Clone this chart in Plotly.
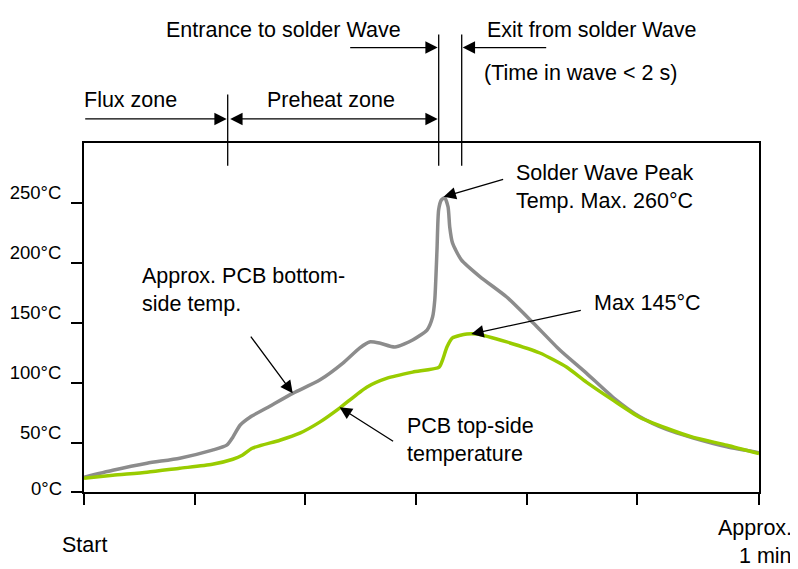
import plotly.graph_objects as go

# ---------------- data ----------------
time_bottom = [0, 2.6, 5.7, 8.65, 11.6, 12.9, 13.45, 14.1, 15.0, 16.5, 18.9, 21.3, 23.4, 24.9, 25.8,
               26.7, 28.1, 29.7, 31.0, 31.5, 31.7, 31.9, 32.05, 32.3, 32.6, 32.9, 33.05, 33.3, 34.1,
               35.8, 38.2, 40.6, 43.0, 45.4, 47.8, 50.2, 52.65, 55.0, 58.1, 61.0]
temp_bottom = [21.5, 27.3, 33.1, 37.3, 44.0, 48.1, 54.8, 64.7, 71.4, 79.0, 91.4, 102.3, 116.4, 128.9, 134.0,
               133.1, 129.7, 135.6, 143.9, 154.7, 169.0, 210.5, 243.9, 252.2, 253.9, 246.4, 229.7, 216.4, 202.3,
               188.2, 171.4, 149.8, 127.3, 108.1, 88.0, 72.0, 61.2, 54.3, 46.8, 41.9]

time_top = [0, 2.6, 5.7, 8.65, 11.6, 13.45, 14.3, 15.2, 17.7, 19.5, 21.3, 23.1, 25.55, 27.4, 29.7,
            32.1, 32.4, 32.8, 33.3, 34.6, 35.5, 38.2, 41.2, 43.6, 45.4, 47.8, 50.2, 52.65, 55.0, 58.1, 61.0]
temp_top = [20.6, 23.1, 25.6, 28.9, 32.2, 36.4, 39.7, 45.6, 52.2, 58.1, 67.3, 79.0, 96.4, 103.9, 108.9,
            113.1, 118.9, 129.7, 137.3, 140.6, 140.6, 134.0, 124.8, 113.1, 100.6, 85.6, 71.4, 62.2, 54.8, 48.1, 41.1]

y_axis_floor = 9.17
y_tick_vals = [y_axis_floor, 50, 100, 150, 200, 250]
y_tick_text = ["", "50°C", "100°C", "150°C", "200°C", "250°C"]
x_tick_vals = [0, 10, 20, 30, 40, 50, 61]

FONT = "Liberation Sans, Arial, sans-serif"
FS = 21.5      # annotation font size
TFS = 18.5     # tick label font size

# page offset of the figure (default body margin)
OFF = 8
W, H = 798 - OFF, 569 - OFF
# plot area in page pixels
L, R, T, B = 84.3, 759.3, 143.3, 491.7


def px(x):
    return (x - L) / (R - L)


def py(y):
    return (B - y) / (B - T)


fig = go.Figure()
fig.add_trace(go.Scatter(x=time_bottom, y=temp_bottom, mode="lines",
                         line=dict(color="#8c8c8c", width=3.5, shape="spline", smoothing=0.6),
                         showlegend=False, hoverinfo="skip"))
fig.add_trace(go.Scatter(x=time_top, y=temp_top, mode="lines",
                         line=dict(color="#99cc00", width=3.5, shape="spline", smoothing=0.6),
                         showlegend=False, hoverinfo="skip"))

ann = []


def text(t, x, y, size=FS, xanchor="left", align="left", xref="paper", yref="paper"):
    ann.append(dict(text=t, x=x, y=y, xref=xref, yref=yref, xanchor=xanchor, yanchor="middle",
                    align=align, showarrow=False, font=dict(family=FONT, size=size, color="black")))


def arrow(x, y, ax, ay, xref="paper", yref="paper", side="end"):
    ann.append(dict(text="", x=x, y=y, xref=xref, yref=yref, ax=ax, ay=ay, axref="pixel", ayref="pixel",
                    showarrow=True, arrowhead=2, arrowsize=1.9, arrowwidth=1.3, arrowcolor="black",
                    arrowside=side, standoff=0, startstandoff=0))


# top texts
text("Entrance to solder Wave", px(164), py(30))
text("Exit from solder Wave", px(485), py(30))
text("(Time in wave &lt; 2 s)", px(482), py(73))
text("Flux zone", px(82), py(100))
text("Preheat zone", px(265), py(100))
# curve labels
text("Solder Wave Peak<br>Temp. Max. 260°C", px(514), py(187))
text("Max 145°C", px(592), py(303))
text("Approx. PCB bottom-<br>side temp.", px(140), py(290))
text("PCB top-side<br>temperature", px(405), py(440))
# axis labels
text("Start", 0, py(545), xanchor="center", align="center", xref="x")
text("Approx.", px(794), py(528), xanchor="right", align="right")
text("1 min", px(794), py(556), xanchor="right", align="right")
text("0°C", px(64), py(488), size=TFS, xanchor="right", align="right")

# top arrows
arrow(px(227), py(119.3), -143, 0)
arrow(px(438), py(119.3), -209, 0, side="end+start")
arrow(px(438), py(48), -89, 0)
arrow(px(463), py(48), 85, 0)
# curve arrows
arrow(32.5, 254.7, 61, -18, xref="x", yref="y")
arrow(35.0, 140.6, 111, -24, xref="x", yref="y")
arrow(18.86, 91.4, -43, -58, xref="x", yref="y")
arrow(23.1, 79.7, 55, 35, xref="x", yref="y")

shapes = []
for xv, y0 in [(228, 95), (439, 35), (462, 35)]:
    shapes.append(dict(type="line", xref="paper", yref="paper", x0=px(xv), x1=px(xv), y0=py(y0), y1=py(166),
                       line=dict(color="black", width=1.3)))

axis_common = dict(showline=True, linecolor="black", linewidth=2, mirror=True, ticks="outside",
                   ticklen=11, tickwidth=2, tickcolor="black", showgrid=False, zeroline=False,
                   automargin=False)

fig.update_layout(
    width=W, height=H,
    margin=dict(l=L - OFF, r=798 - R, t=T - OFF, b=569 - B, pad=0),
    plot_bgcolor="white", paper_bgcolor="white",
    font=dict(family=FONT, size=TFS, color="black"),
    xaxis=dict(range=[0, 61], tickvals=x_tick_vals, showticklabels=False, **axis_common),
    yaxis=dict(range=[y_axis_floor, 299.5], tickvals=y_tick_vals, ticktext=y_tick_text,
               ticklabelshift=-10, ticklabelstandoff=6,
               tickfont=dict(family=FONT, size=TFS, color="black"), **axis_common),
    annotations=ann, shapes=shapes,
)

fig.write_html("out.html")
